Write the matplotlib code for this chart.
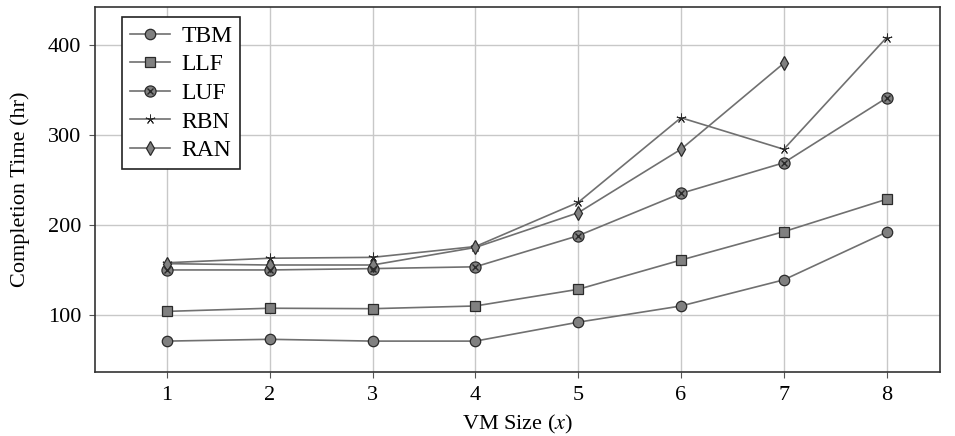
import matplotlib.pyplot as plt

plt.rcParams['font.family'] = ['Liberation Serif', 'DejaVu Serif']
plt.rcParams['mathtext.fontset'] = 'stix'

# VM sizes and completion times (hr)
vm_size = [1, 2, 3, 4, 5, 6, 7, 8]
tbm = [71, 73, 71, 71, 92, 110, 139, 192]
llf = [104, 107.5, 107, 110, 128.5, 161, 192.5, 228.5]
luf = [150, 150, 151.5, 153.5, 188, 235, 269, 341]
rbn = [158, 163, 164, 176, 225, 319, 284, 408]
ran_x = [1, 2, 3, 4, 5, 6, 7]
ran = [157, 155.5, 155.5, 175, 213.5, 284, 379.5]

line_c = '#707070'
fill_c = '#808080'
edge_c = '#2a2a2a'

fig = plt.figure(figsize=(9.55, 4.36), dpi=100)
ax = fig.add_axes([0.0995, 0.1468, 0.8848, 0.8372])

common = dict(color=line_c, linewidth=1.2, markerfacecolor=fill_c,
              markeredgecolor=edge_c, markeredgewidth=0.9, zorder=3)

h_tbm, = ax.plot(vm_size, tbm, marker='o', markersize=7.5, **common)
h_llf, = ax.plot(vm_size, llf, marker='s', markersize=7.5, **common)
h_luf, = ax.plot(vm_size, luf, marker='o', markersize=8, **common)
h_lufx, = ax.plot(vm_size, luf, linestyle='none', marker='x', markersize=5,
                  markeredgecolor=edge_c, markeredgewidth=1.0, zorder=4)
h_rbn, = ax.plot(vm_size, rbn, marker=(5, 2, 0), markersize=7,
                 color=line_c, linewidth=1.2, markeredgecolor=edge_c,
                 markeredgewidth=0.7, zorder=3)
h_ran, = ax.plot(ran_x, ran, marker='d', markersize=7, **common)

ax.set_xlim(0.3, 8.52)
ax.set_ylim(36.7, 442)
ax.set_xticks(vm_size)
ax.set_yticks([100, 200, 300, 400])
ax.grid(True, color='#c8c8c8', linewidth=1.0)
ax.set_axisbelow(True)
for s in ax.spines.values():
    s.set_color('#333333')
    s.set_linewidth(1.2)
ax.tick_params(labelsize=16, length=4, width=0.8, color='#555555', pad=6)

ax.set_xlabel('VM Size ($x$)', fontsize=16, labelpad=6)
ax.set_ylabel('Completion Time (hr)', fontsize=16, labelpad=13)

leg = ax.legend([h_tbm, h_llf, (h_luf, h_lufx), h_rbn, h_ran],
                ['TBM', 'LLF', 'LUF', 'RBN', 'RAN'],
                loc='upper left', bbox_to_anchor=(0.032, 0.9726),
                borderaxespad=0, fontsize=17, fancybox=False, framealpha=1,
                edgecolor='#222222', handlelength=1.7, labelspacing=0.3,
                borderpad=0.35, handletextpad=0.45)
leg.get_frame().set_linewidth(1.2)

fig.savefig('out.png', dpi=100)
